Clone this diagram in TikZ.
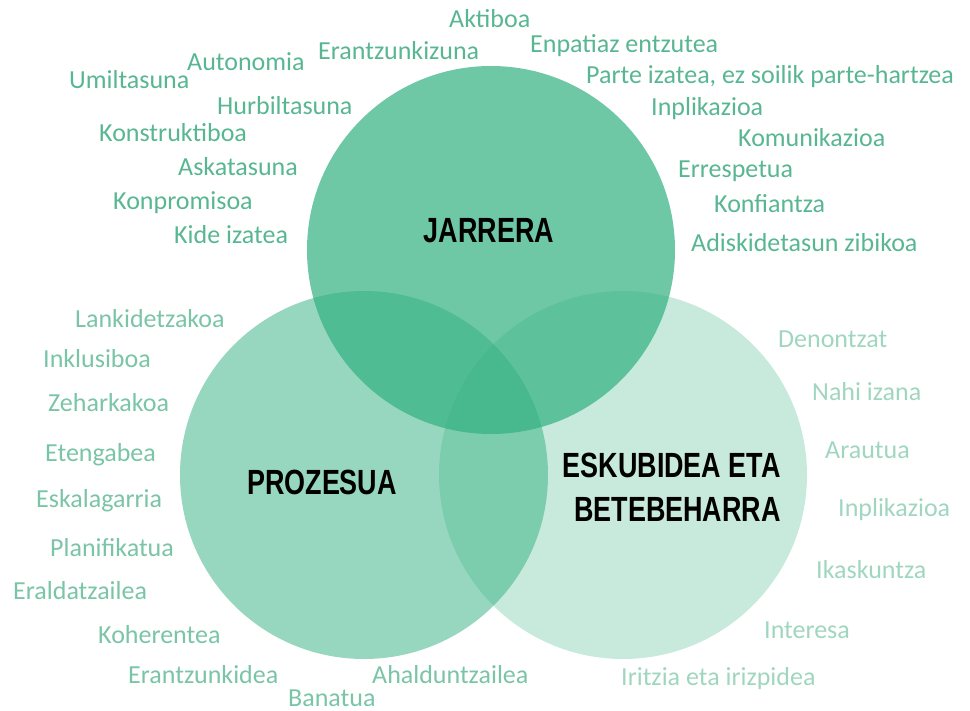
\documentclass[tikz,border=0pt]{standalone}
\usepackage{fontspec}
\setmainfont{Carlito}
\newfontfamily\headfont[FakeStretch=0.77]{Liberation Sans}
\definecolor{basegreen}{RGB}{49,176,128}
\definecolor{topcol}{RGB}{88,182,146}
\definecolor{leftcol}{RGB}{122,196,167}
\definecolor{rightcol}{RGB}{160,214,192}
\tikzset{
  circ/.style={circle, inner sep=0pt, minimum size=368pt, fill=basegreen, draw=none},
  head/.style={font=\headfont\bfseries\fontsize{35}{42}\selectfont, text=black, inner sep=0pt, anchor=base},
  lbl/.style={font=\fontsize{26}{30}\selectfont, inner sep=0pt, anchor=base west},
  ltop/.style={lbl, text=topcol},
  lleft/.style={lbl, text=leftcol},
  lright/.style={lbl, text=rightcol}
}
\begin{document}
\begin{tikzpicture}[x=1pt,y=-1pt]
\useasboundingbox (0,0) rectangle (970,711);
% circles
\node[circ, fill opacity=0.70] (cJ) at (491,250) {};
\node[circ, fill opacity=0.50] (cP) at (364,475) {};
\node[circ, fill opacity=0.27] (cE) at (623,475) {};
% headings
\node[head] (hJ) at (489,243) {JARRERA};
\node[head] (hP) at (322,494) {PROZESUA};
\node[head, anchor=base east] (hE1) at (781,478) {ESKUBIDEA ETA};
\node[head, anchor=base east] (hE2) at (781,521) {BETEBEHARRA};
% JARRERA labels
\node[ltop] (t1) at (449,28) {Aktiboa};
\node[ltop] (t2) at (318,60) {Erantzunkizuna};
\node[ltop] (t3) at (187,71) {Autonomia};
\node[ltop] (t4) at (69,89) {Umiltasuna};
\node[ltop] (t5) at (217,115) {Hurbiltasuna};
\node[ltop] (t6) at (99,142) {Konstruktiboa};
\node[ltop] (t7) at (178,176) {Askatasuna};
\node[ltop] (t8) at (113,210) {Konpromisoa};
\node[ltop] (t9) at (174,244) {Kide izatea};
\node[ltop] (t10) at (530,53) {Enpatiaz entzutea};
\node[ltop] (t11) at (586,84) {Parte izatea, ez soilik parte-hartzea};
\node[ltop] (t12) at (651,116) {Inplikazioa};
\node[ltop] (t13) at (738,147) {Komunikazioa};
\node[ltop] (t14) at (678,178) {Errespetua};
\node[ltop] (t15) at (714,213) {Konfiantza};
\node[ltop] (t16) at (691,252) {Adiskidetasun zibikoa};
% PROZESUA labels
\node[lleft] (p1) at (75,328) {Lankidetzakoa};
\node[lleft] (p2) at (43,368) {Inklusiboa};
\node[lleft] (p3) at (48,412) {Zeharkakoa};
\node[lleft] (p4) at (45,461) {Etengabea};
\node[lleft] (p5) at (36,507) {Eskalagarria};
\node[lleft] (p6) at (50,556) {Planifikatua};
\node[lleft] (p7) at (13,599) {Eraldatzailea};
\node[lleft] (p8) at (98,643) {Koherentea};
\node[lleft] (p9) at (128,683) {Erantzunkidea};
\node[lleft] (p10) at (288,706) {Banatua};
\node[lleft] (p11) at (372,683) {Ahalduntzailea};
% ESKUBIDEA labels
\node[lright] (e1) at (778,348) {Denontzat};
\node[lright] (e2) at (812,401) {Nahi izana};
\node[lright] (e3) at (825,459) {Arautua};
\node[lright] (e4) at (838,516) {Inplikazioa};
\node[lright] (e5) at (816,578) {Ikaskuntza};
\node[lright] (e6) at (764,638) {Interesa};
\node[lright] (e7) at (621,685) {Iritzia eta irizpidea};
\end{tikzpicture}
\end{document}
